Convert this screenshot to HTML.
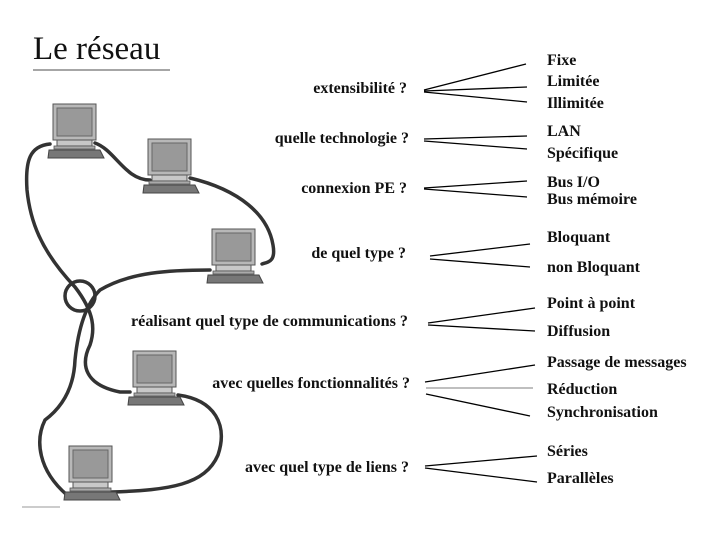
<!DOCTYPE html>
<html><head><meta charset="utf-8"><style>
body{margin:0;background:#fff}
svg{display:block}
text{font-family:"Liberation Serif",serif;font-size:16px;font-weight:bold;fill:#111}
</style></head><body>
<svg width="720" height="540" viewBox="0 0 720 540" xmlns="http://www.w3.org/2000/svg">
<defs>
<g id="pc">
<rect x="0" y="0" width="43" height="36" fill="#b8b8b8" stroke="#555" stroke-width="1"/>
<rect x="4" y="4" width="35" height="28" fill="#999" stroke="#666" stroke-width="1"/>
<rect x="4" y="36" width="35" height="6" fill="#c8c8c8" stroke="#555" stroke-width="1"/>
<rect x="1" y="42" width="41" height="3" fill="#aaa" stroke="#555" stroke-width="0.8"/>
<polygon points="-4,46 47,46 51,54 -5,54" fill="#777" stroke="#444" stroke-width="1"/>
</g>
</defs>
<text x="33" y="59" style="font-size:33px;font-weight:normal">Le réseau</text>
<line x1="33" y1="70" x2="170" y2="70" stroke="#888" stroke-width="1.5"/>

<g fill="none" stroke="#333" stroke-width="3.5" stroke-linecap="round">
<path d="M50,144 C30,146 25,160 27,190 C30,220 40,250 75,287 C95,313 95,330 90,345 C80,365 85,385 120,392 L130,392"/>
<path d="M95,143 C115,150 125,180 150,180"/>
<path d="M190,178 C240,190 268,215 273,245 C276,262 268,262 262,264"/>
<path d="M210,270 C170,270 130,272 100,290 C85,305 78,330 75,360 C74,385 65,405 45,420 C35,440 38,470 67,495"/>
<circle cx="80" cy="296" r="15"/>
<path d="M178,395 C215,400 228,425 218,455 C205,485 170,490 112,492"/>
</g>

<use href="#pc" x="53" y="104"/>
<use href="#pc" x="148" y="139"/>
<use href="#pc" x="212" y="229"/>
<use href="#pc" x="133" y="351"/>
<use href="#pc" x="69" y="446"/>
<line x1="22" y1="507" x2="60" y2="507" stroke="#999" stroke-width="1"/>

<g text-anchor="end">
<text x="407" y="93">extensibilité ?</text>
<text x="409" y="143">quelle technologie ?</text>
<text x="407" y="193">connexion PE ?</text>
<text x="406" y="258">de quel type ?</text>
<text x="408" y="326" textLength="277" lengthAdjust="spacingAndGlyphs">réalisant quel type de communications ?</text>
<text x="410" y="388">avec quelles fonctionnalités ?</text>
<text x="409" y="472">avec quel type de liens ?</text>
</g>

<g stroke="#000" stroke-width="1.3">
<line x1="424" y1="90" x2="526" y2="64"/>
<line x1="424" y1="91" x2="527" y2="87"/>
<line x1="424" y1="92" x2="527" y2="102"/>
<line x1="424" y1="139" x2="527" y2="136"/>
<line x1="424" y1="141" x2="527" y2="149"/>
<line x1="424" y1="188" x2="527" y2="181"/>
<line x1="424" y1="189" x2="527" y2="197"/>
<line x1="430" y1="256" x2="530" y2="244"/>
<line x1="430" y1="259" x2="530" y2="267"/>
<line x1="428" y1="323" x2="535" y2="308"/>
<line x1="428" y1="325" x2="535" y2="331"/>
<line x1="425" y1="382" x2="535" y2="365"/>
<line x1="426" y1="394" x2="530" y2="416"/>
<line x1="425" y1="466" x2="537" y2="456"/>
<line x1="425" y1="468" x2="537" y2="482"/>
</g>
<line x1="426" y1="388" x2="533" y2="388" stroke="#999" stroke-width="1.3"/>

<text x="547" y="65">Fixe</text>
<text x="547" y="86">Limitée</text>
<text x="547" y="108">Illimitée</text>
<text x="547" y="136">LAN</text>
<text x="547" y="158">Spécifique</text>
<text x="547" y="187">Bus I/O</text>
<text x="547" y="204">Bus mémoire</text>
<text x="547" y="242">Bloquant</text>
<text x="547" y="272">non Bloquant</text>
<text x="547" y="308">Point à point</text>
<text x="547" y="336">Diffusion</text>
<text x="547" y="367">Passage de messages</text>
<text x="547" y="394">Réduction</text>
<text x="547" y="417">Synchronisation</text>
<text x="547" y="456">Séries</text>
<text x="547" y="483">Parallèles</text>
</svg>
</body></html>
